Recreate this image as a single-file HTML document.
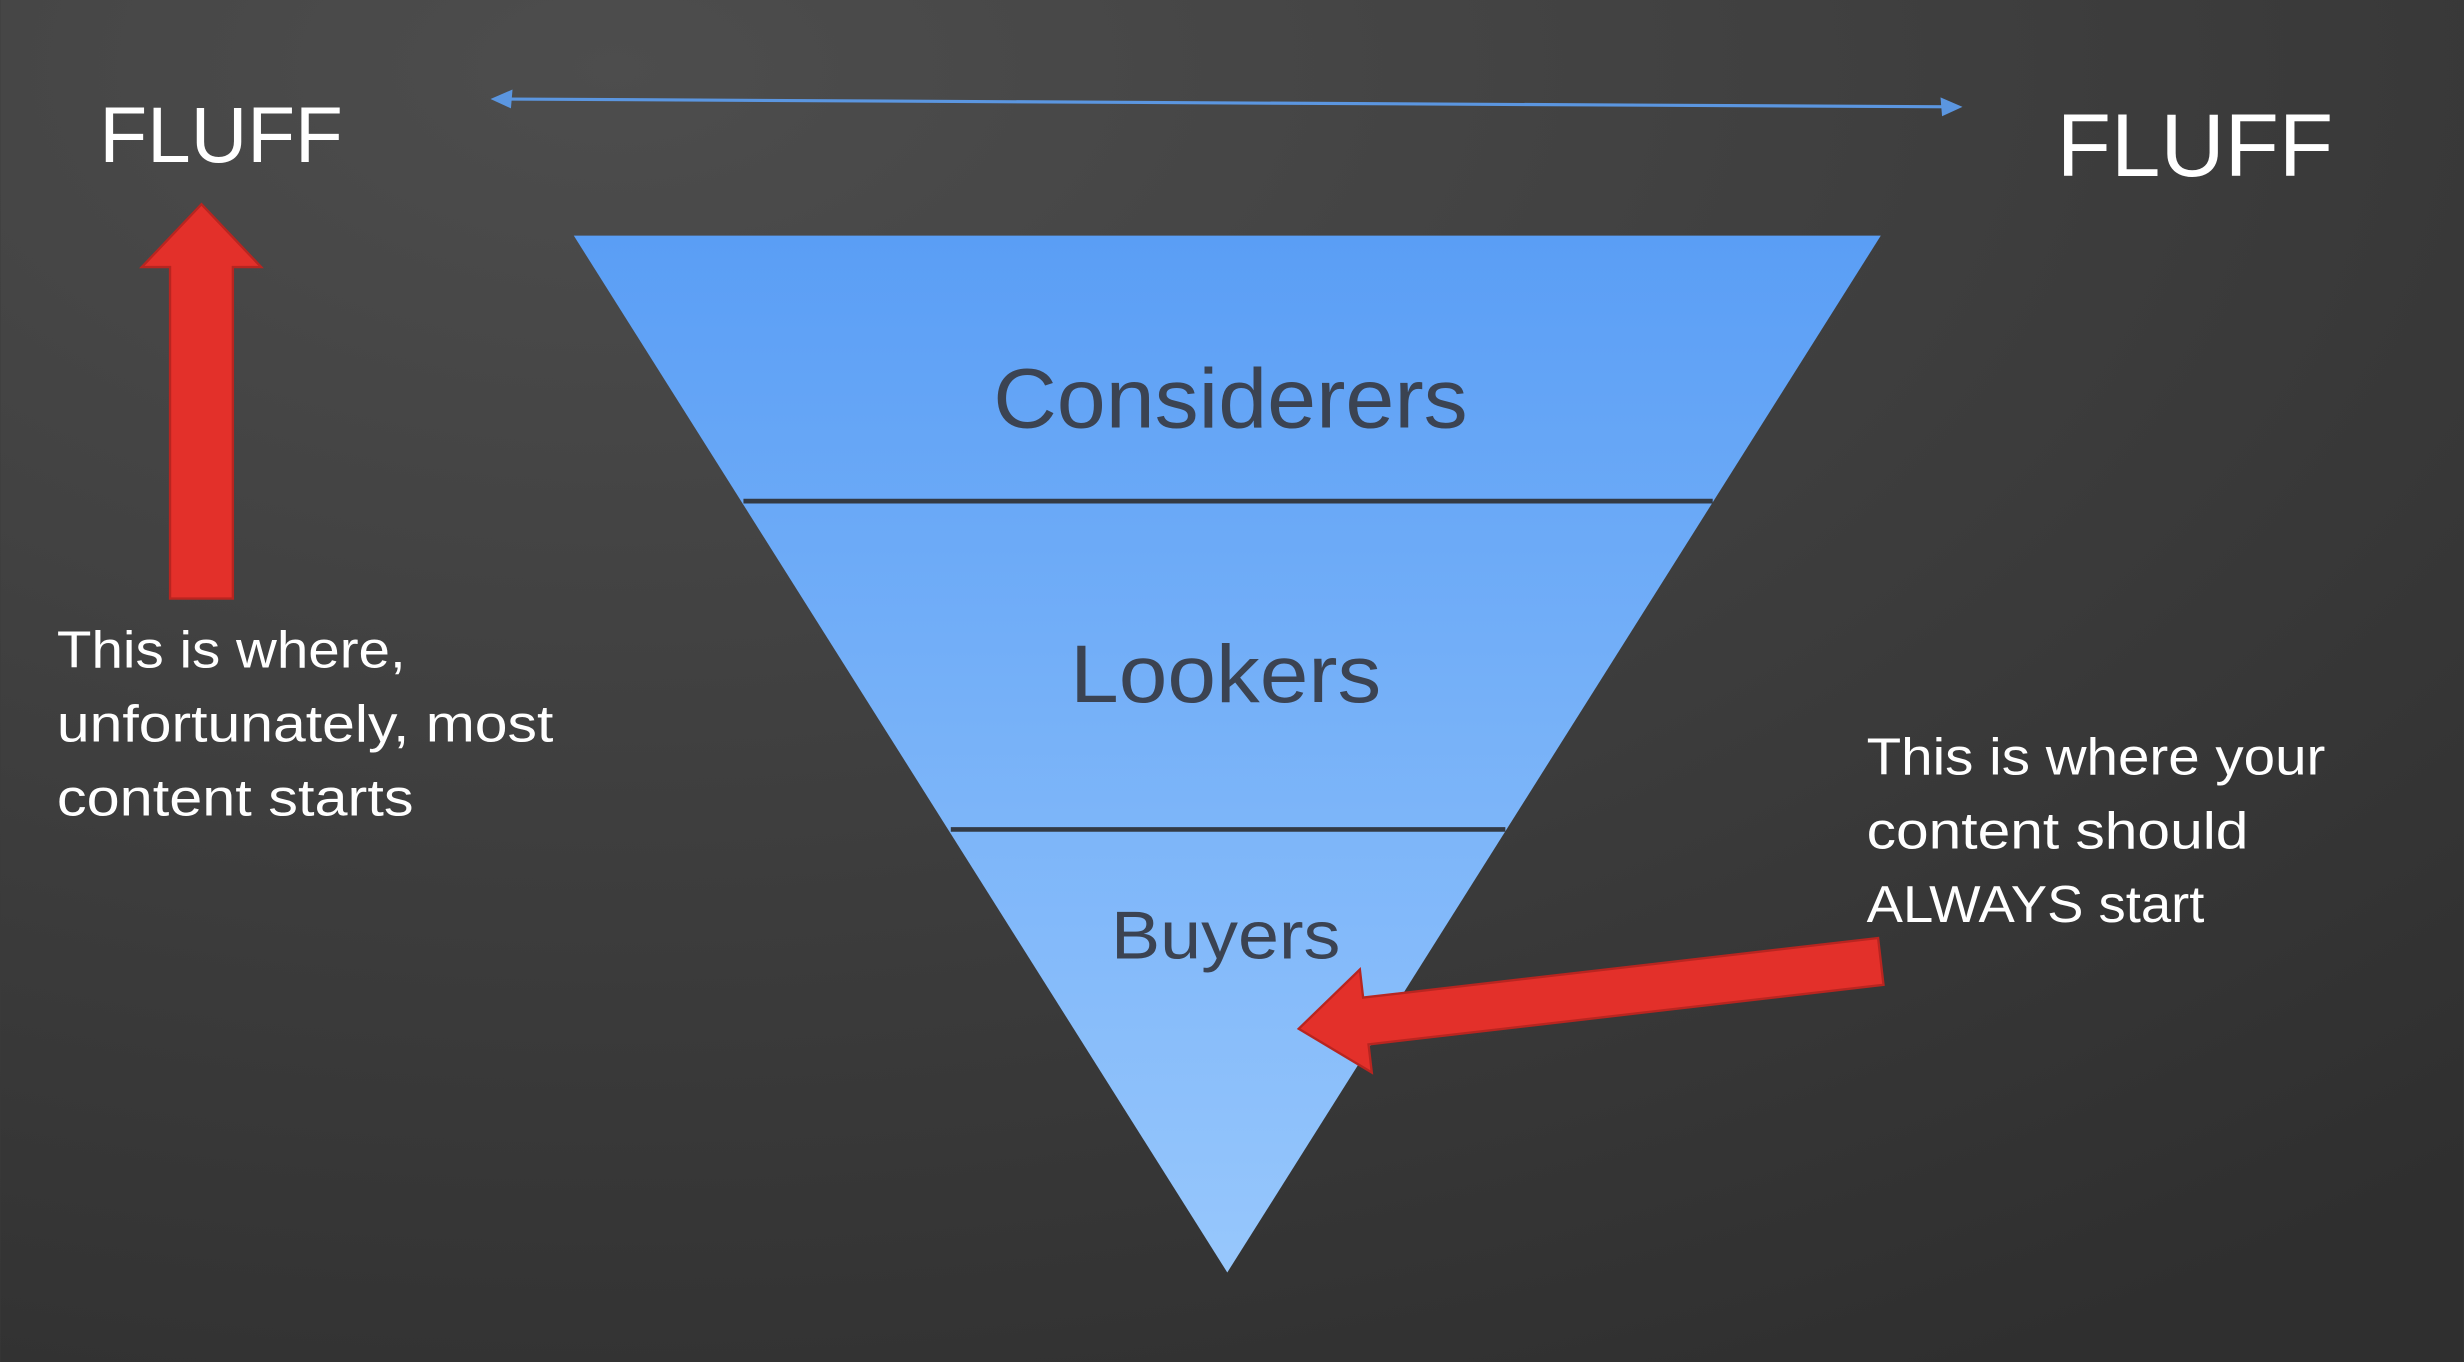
<!DOCTYPE html>
<html><head><meta charset="utf-8"><style>
html,body{margin:0;padding:0;width:2464px;height:1362px;overflow:hidden;background:#3a3a3a}
svg{display:block}
</style></head><body>
<svg width="2464" height="1362" viewBox="0 0 1568 867" xmlns="http://www.w3.org/2000/svg">
<defs>
<radialGradient id="bg" cx="0.25" cy="0.05" r="1.1">
<stop offset="0" stop-color="#4d4d4d"/><stop offset="1" stop-color="#2f2f2f"/>
</radialGradient>
<linearGradient id="tri" x1="0" y1="150" x2="0" y2="810" gradientUnits="userSpaceOnUse">
<stop offset="0" stop-color="#5a9ef5"/><stop offset="1" stop-color="#97c7fc"/>
</linearGradient>
</defs>
<rect width="1568" height="867" fill="url(#bg)"/>
<g font-family="Liberation Sans, sans-serif">
<text x="63" y="103" font-size="50" fill="#fff" textLength="155" lengthAdjust="spacingAndGlyphs">FLUFF</text>
<text x="1309" y="112" font-size="57" fill="#fff" textLength="176" lengthAdjust="spacingAndGlyphs">FLUFF</text>
<line x1="318" y1="63" x2="1243" y2="68" stroke="#5b96e0" stroke-width="2"/>
<polygon points="312,63 326,57 325,69" fill="#5b96e0"/>
<polygon points="1249,68 1235,62 1236,74" fill="#5b96e0"/>
<polygon points="365,150 1197,150 781,810" fill="url(#tri)"/>
<line x1="473" y1="319" x2="1090" y2="319" stroke="#333a44" stroke-width="3"/>
<line x1="605" y1="528" x2="958" y2="528" stroke="#333a44" stroke-width="3"/>
<text x="632" y="272" font-size="54" fill="#3b4352" textLength="302" lengthAdjust="spacingAndGlyphs">Considerers</text>
<text x="681" y="447" font-size="52" fill="#3b4352" textLength="198" lengthAdjust="spacingAndGlyphs">Lookers</text>
<text x="707" y="610" font-size="43" fill="#3b4352" textLength="146" lengthAdjust="spacingAndGlyphs">Buyers</text>
<polygon points="108,381 148,381 148,170 166,170 128,130 90,170 108,170" fill="#e3302a" stroke="#b82520" stroke-width="1.5"/>
<g transform="translate(1197,612) rotate(173.4)">
<polygon points="0,-15 330,-15 330,-33 373,0 330,33 330,15 0,15" fill="#e3302a" stroke="#b82520" stroke-width="1.5"/>
</g>
<g font-size="33" fill="#fff" lengthAdjust="spacingAndGlyphs">
<text x="36" y="425" textLength="222" lengthAdjust="spacingAndGlyphs">This is where,</text>
<text x="36" y="472" textLength="316" lengthAdjust="spacingAndGlyphs">unfortunately, most</text>
<text x="36" y="519" textLength="227" lengthAdjust="spacingAndGlyphs">content starts</text>
<text x="1188" y="493" textLength="292" lengthAdjust="spacingAndGlyphs">This is where your</text>
<text x="1188" y="540" textLength="243" lengthAdjust="spacingAndGlyphs">content should</text>
<text x="1188" y="587" textLength="215" lengthAdjust="spacingAndGlyphs">ALWAYS start</text>
</g>
</g>
</svg>
</body></html>
